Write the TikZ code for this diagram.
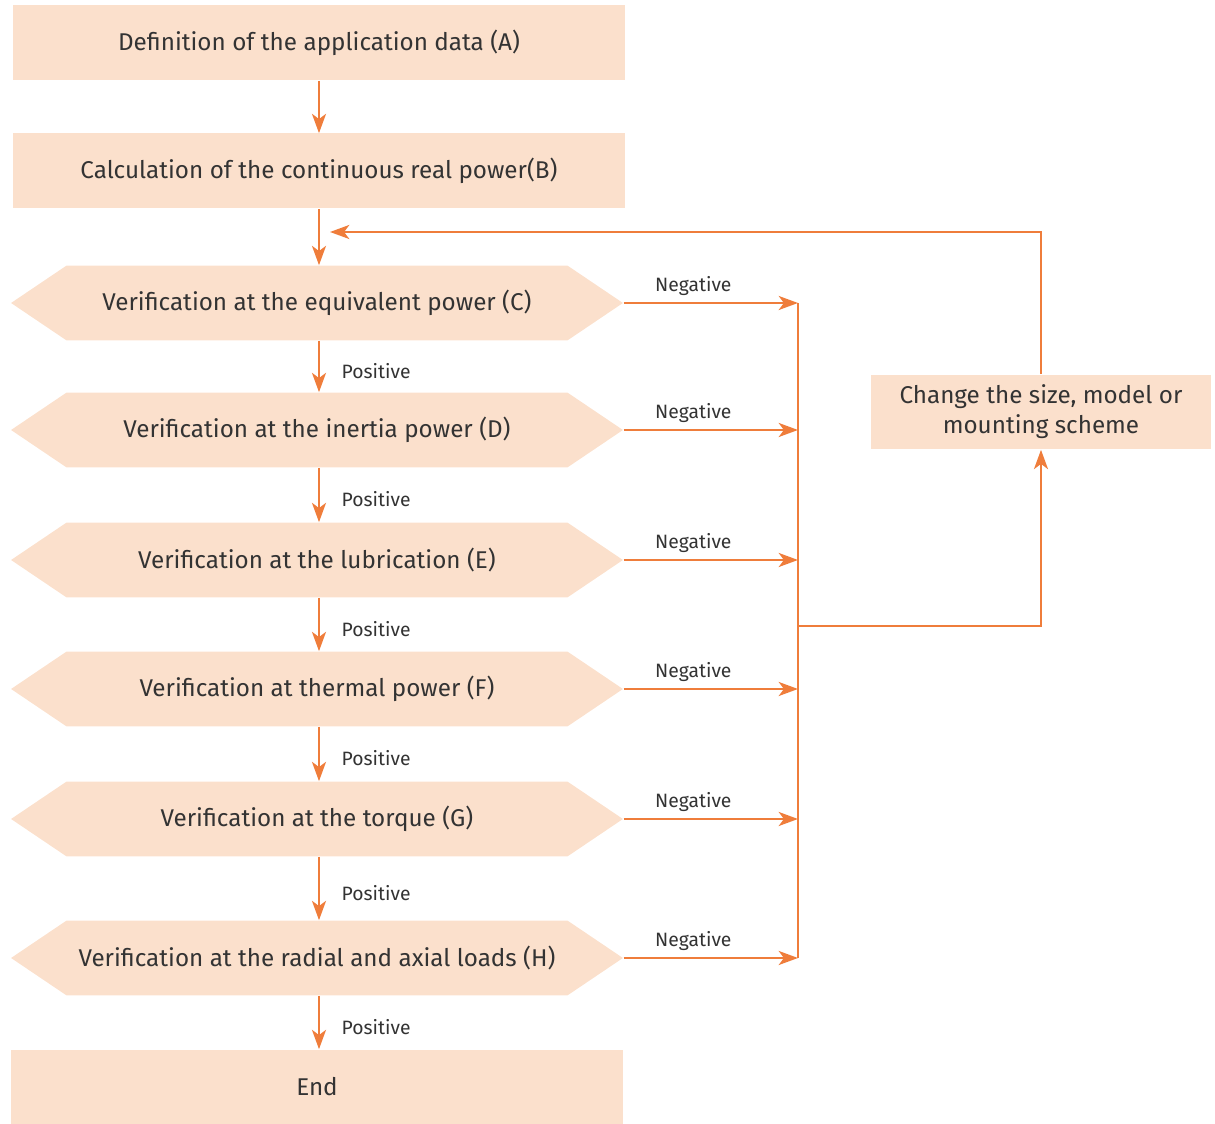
\documentclass[tikz,border=0pt]{standalone}
\usepackage{fontspec}
\setmainfont{Fira Sans}
\usepackage{xcolor}
\usepackage{tikz}
\usetikzlibrary{arrows.meta, shapes.symbols}
\definecolor{flowfill}{HTML}{FBE0CC}
\definecolor{flowline}{HTML}{EF7D3B}
\definecolor{flowtext}{HTML}{333333}

\begin{document}
\begin{tikzpicture}[x=0.02cm, y=-0.02cm,
  box/.style={fill=flowfill, minimum width=12.24cm, minimum height=1.5cm,
              inner sep=0pt, align=center, text=flowtext,
              font=\fontsize{13.8}{17}\selectfont},
  check/.style={box, shape=signal, signal to=west and east,
                signal pointer angle=68},
  arr/.style={-{Stealth[length=11pt,width=8pt,inset=3pt]}, line width=1.2pt, flowline},
  lin/.style={line width=1.2pt, flowline},
  slbl/.style={font=\fontsize{11}{13}\selectfont, text=flowtext}
]
\useasboundingbox (0,0) rectangle (1215,1124);

%% Nodes
\node[box] (a)   at (319, 43)   {Definition of the application data (A)};
\node[box] (b)   at (319, 171)  {Calculation of the continuous real power(B)};
\node[check] (c) at (317, 303)  {Verification at the equivalent power (C)};
\node[check] (d) at (317, 430)  {Verification at the inertia power (D)};
\node[check] (e) at (317, 560)  {Verification at the lubrication (E)};
\node[check] (f) at (317, 689)  {Verification at thermal power (F)};
\node[check] (g) at (317, 819)  {Verification at the torque (G)};
\node[check] (h) at (317, 958)  {Verification at the radial and axial loads (H)};
\node[box] (end) at (317, 1087) {End};
\node[box, minimum width=6.82cm] (chg) at (1041, 412)
  {Change the size, model or\\mounting scheme};

%% Main chain
\draw[arr] (a) -- (b);
\draw[arr] (b.south -| 319,0) -- (c.north -| 319,0);
\foreach \s/\t in {c/d, d/e, e/f, f/g, g/h, h/end}
  \draw[arr] (\s.south -| 319,0) -- node[slbl, right, pos=0.58, xshift=9pt] {Positive} (\t.north -| 319,0);

%% Negative branches into the collector line
\coordinate (col) at (798, 0);
\foreach \s in {c, d, e, f, g, h}
  \draw[arr] (\s.east) -- node[slbl, above, pos=0.4] {Negative} (\s.east -| col);
\draw[lin] (c.east -| col) -- (h.east -| col);

%% Loop back to the top
\coordinate (mid) at (798, 626);
\draw[arr] (mid) -| (chg.south);
\coordinate (back) at (330, 232);
\draw[arr] (chg.north) |- (back);

\end{tikzpicture}
\end{document}
